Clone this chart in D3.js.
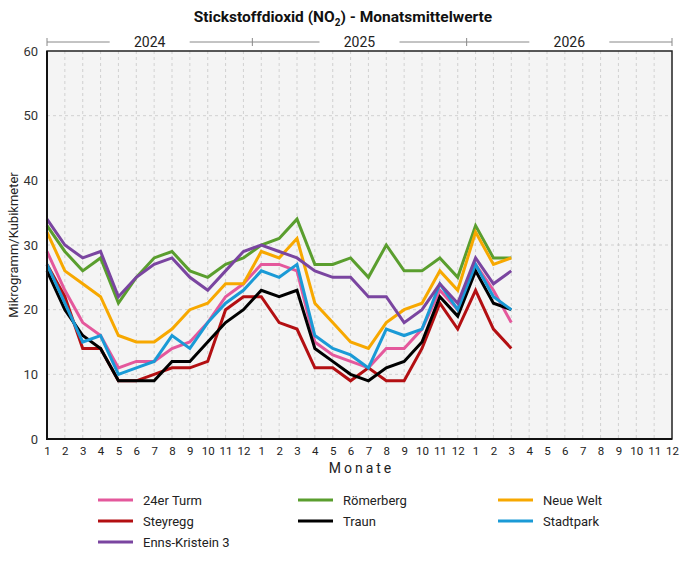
<!DOCTYPE html>
<html><head><meta charset="utf-8">
<script src="https://cdn.jsdelivr.net/npm/d3@7"></script>
<style>body{margin:0;background:#fff;font-family:Roboto,"Liberation Sans",sans-serif;}</style>
</head><body>
<svg id="c" width="682" height="567"></svg>
<script>
const years = ["2024","2025","2026"];
const monthLabels = ["1","2","3","4","5","6","7","8","9","10","11","12"];
const yTicks = [0,10,20,30,40,50,60];
const stations = ["24er Turm","Römerberg","Neue Welt","Steyregg","Traun","Stadtpark","Enns-Kristein 3"];
const colors = ["#e4589c","#5a9e2e","#f7a800","#b30f12","#000000","#1a9ad6","#7a45a0"];
const turm24   = [29,23,18,16,11,12,12,14,15,18,22,24, 27,27,26,15,13,12,11,14,14,17,23,20, 27,23,18];
const roemerberg=[33,29,26,28,21,25,28,29,26,25,27,28, 30,31,34,27,27,28,25,30,26,26,28,25, 33,28,28];
const neueWelt = [32,26,24,22,16,15,15,17,20,21,24,24, 29,28,31,21,18,15,14,18,20,21,26,23, 32,27,28];
const steyregg = [27,22,14,14,9,9,10,11,11,12,20,22, 22,18,17,11,11,9,11,9,9,14,21,17, 23,17,14];
const traun    = [26,20,16,14,9,9,9,12,12,15,18,20, 23,22,23,14,12,10,9,11,12,15,22,19, 26,21,20];
const stadtpark= [27,21,15,16,10,11,12,16,14,18,21,23, 26,25,27,16,14,13,11,17,16,17,24,20, 27,22,20];
const enns     = [34,30,28,29,22,25,27,28,25,23,26,29, 30,29,28,26,25,25,22,22,18,20,24,21, 28,24,26];
const series = [turm24,roemerberg,neueWelt,steyregg,traun,stadtpark,enns];

const svg = d3.select("#c");
const L=47,R=672,T=51,B=439;
const nMonths = years.length*12;
const x = d3.scaleLinear().domain([0,nMonths-1]).range([L,R]);
const y = d3.scaleLinear().domain([0,60]).range([B,T]);

// background
svg.append("rect").attr("x",L).attr("y",T).attr("width",R-L).attr("height",B-T).attr("fill","#f4f4f4");
// grid
const idx = d3.range(nMonths);
svg.append("g").selectAll("line").data(idx.slice(1,-1)).join("line")
  .attr("x1",d=>x(d)).attr("x2",d=>x(d)).attr("y1",T).attr("y2",B)
  .attr("stroke","#c8c8c8").attr("stroke-width",0.8).attr("stroke-dasharray","3,3");
svg.append("g").selectAll("line").data(yTicks.slice(1,-1)).join("line")
  .attr("x1",L).attr("x2",R).attr("y1",d=>y(d)).attr("y2",d=>y(d))
  .attr("stroke","#c8c8c8").attr("stroke-width",0.8).attr("stroke-dasharray","3,3");

// y axis labels
const yAxis = d3.axisLeft(y).tickValues(yTicks).tickSize(0).tickPadding(9);
const gy = svg.append("g").attr("transform",`translate(${L},0)`).call(yAxis);
gy.select(".domain").remove();
gy.selectAll("text").attr("font-size",13).attr("fill","#333").attr("font-family","Roboto,sans-serif");

// x axis labels
const xAxis = d3.axisBottom(x).tickValues(idx).tickFormat(d=>monthLabels[d%12]).tickSize(0).tickPadding(8);
const gx = svg.append("g").attr("transform",`translate(0,${B})`).call(xAxis);
gx.select(".domain").remove();
gx.selectAll("text").attr("font-size",11.5).attr("fill","#222").attr("font-family","Roboto,sans-serif");

// lines
const line = d3.line().x((d,i)=>x(i)).y(d=>y(d));
series.forEach((s,k)=>{
  svg.append("path").datum(s).attr("d",line).attr("fill","none")
    .attr("stroke",colors[k]).attr("stroke-width",3).attr("stroke-linejoin","miter");
});

// frame
svg.append("rect").attr("x",L).attr("y",T).attr("width",R-L).attr("height",B-T)
  .attr("fill","none").attr("stroke","#222").attr("stroke-width",1.5);
svg.append("path").attr("d",`M${L},${T}V${B}H${R}`).attr("fill","none").attr("stroke","#111").attr("stroke-width",2);

// top year axis
const yearAxisY = 42;
const bounds = d3.range(years.length+1).map(i=> i===0 ? L : i===years.length ? R : (x(i*12-1)+x(i*12))/2);
const topG = svg.append("g");
years.forEach((yr,i)=>{
  const a=bounds[i], b=bounds[i+1], c=(a+b)/2;
  const gap=40;
  topG.append("line").attr("x1",a).attr("x2",c-gap).attr("y1",yearAxisY).attr("y2",yearAxisY).attr("stroke","#888").attr("stroke-width",1);
  topG.append("line").attr("x1",c+gap).attr("x2",b).attr("y1",yearAxisY).attr("y2",yearAxisY).attr("stroke","#888").attr("stroke-width",1);
  topG.append("text").attr("x",c).attr("y",yearAxisY+5).attr("text-anchor","middle").attr("font-size",14).attr("fill","#222").text(yr);
});
topG.selectAll("line.t").data(bounds).join("line").attr("class","t")
  .attr("x1",d=>d).attr("x2",d=>d).attr("y1",yearAxisY-4).attr("y2",yearAxisY+4).attr("stroke","#888").attr("stroke-width",1);

// title
const title = svg.append("text").attr("x",343).attr("y",22).attr("text-anchor","middle")
  .attr("font-size",15.5).attr("font-weight","bold").attr("fill","#111");
title.append("tspan").text("Stickstoffdioxid (NO");
title.append("tspan").attr("font-size",10).attr("dy",4).text("2");
title.append("tspan").attr("dy",-4).text(") - Monatsmittelwerte");

// axis titles
svg.append("text").attr("x",(L+R)/2+2).attr("y",473).attr("text-anchor","middle")
  .attr("font-size",14).attr("letter-spacing","3px").attr("fill","#222").text("Monate");
svg.append("text").attr("transform",`translate(18,${(T+B)/2}) rotate(-90)`).attr("text-anchor","middle")
  .attr("font-size",13).attr("fill","#222").text("Mikrogramm/Kubikmeter");

// legend
const lg = svg.append("g");
stations.forEach((s,k)=>{
  const col=k%3,row=Math.floor(k/3);
  const lx=98+col*200, ly=500+row*21;
  lg.append("line").attr("x1",lx).attr("x2",lx+35).attr("y1",ly).attr("y2",ly).attr("stroke",colors[k]).attr("stroke-width",3);
  lg.append("text").attr("x",lx+45).attr("y",ly+4.5).attr("font-size",13).attr("fill","#222").text(s);
});
</script>
</body></html>
